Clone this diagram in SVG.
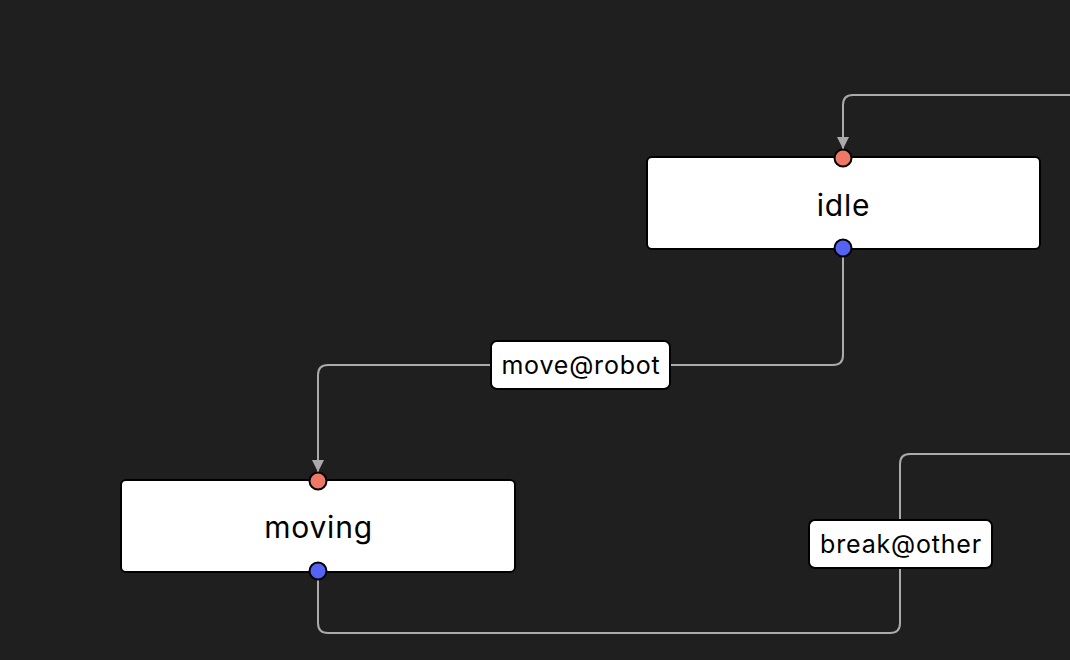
<svg xmlns="http://www.w3.org/2000/svg" width="1070" height="660" viewBox="0 0 1070 660">
<defs>
<style>
.node{fill:#ffffff;stroke:#000000;stroke-width:2}
.ntext{font-family:Inter,"Noto Sans","Liberation Sans",sans-serif;font-size:30px;letter-spacing:0.8px;fill:#000;text-anchor:middle}
.edge{fill:none;stroke:#ababab;stroke-width:2}
.lbl{fill:#ffffff;stroke:#000000;stroke-width:2}
.ltext{font-family:Inter,"Noto Sans","Liberation Sans",sans-serif;font-size:25px;letter-spacing:0.8px;fill:#000;text-anchor:middle}
.pin{fill:#ee7766;stroke:#000;stroke-width:2}
.pout{fill:#5563f5;stroke:#000;stroke-width:2}
</style>
<marker id="arr" viewBox="0 0 10 10" refX="10" refY="5" markerWidth="12" markerHeight="12" markerUnits="userSpaceOnUse" orient="auto">
<path d="M0,0 L10,5 L0,10 z" fill="#ababab"/>
</marker>
</defs>
<rect width="1070" height="660" fill="#1f1f1f"/>
<g id="connectors">
<path class="edge" d="M1070,95 H853 Q843,95 843,105 V149" marker-end="url(#arr)"/>
<path class="edge" d="M843,257 V355 Q843,365 833,365 H328 Q318,365 318,375 V472" marker-end="url(#arr)"/>
<path class="edge" d="M318,579 V623 Q318,633 328,633 H890 Q900,633 900,623 V464 Q900,454 910,454 H1070"/>
<g id="label-move">
<rect class="lbl" x="491" y="341" width="179" height="48" rx="6"/>
<text class="ltext" x="581" y="374">move@robot</text>
</g>
<g id="label-break">
<rect class="lbl" x="809" y="520" width="183" height="48" rx="6"/>
<text class="ltext" x="901" y="553">break@other</text>
</g>
</g>
<g id="node-idle">
<rect class="node" x="647" y="157" width="393" height="92" rx="5"/>
<text class="ntext" x="843.5" y="216">idle</text>
<circle class="pin" cx="843" cy="158" r="8.5"/>
<circle class="pout" cx="843" cy="248" r="8.5"/>
</g>
<g id="node-moving">
<rect class="node" x="121" y="480" width="394" height="92" rx="5"/>
<text class="ntext" x="318.5" y="538">moving</text>
<circle class="pin" cx="318" cy="481" r="8.5"/>
<circle class="pout" cx="318" cy="571" r="8.5"/>
</g>
</svg>
